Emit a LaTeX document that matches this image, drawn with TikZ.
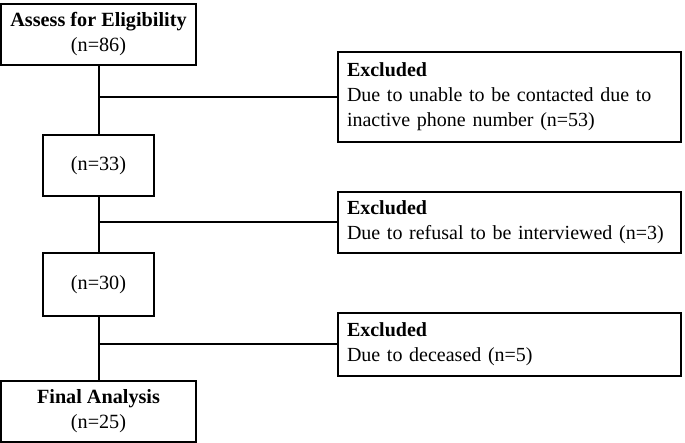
\documentclass[tikz,border=0pt]{standalone}
\usepackage{fontspec}
\setmainfont{Liberation Serif}
\begin{document}
\begin{tikzpicture}[x=1pt,y=-1pt,line width=2pt,
  box/.style={draw,line width=2pt,inner sep=0pt,align=center,font=\fontsize{20.2}{25}\selectfont},
  exbox/.style={draw,line width=2pt,inner xsep=9pt,inner ysep=0pt,align=left,text width=325pt,anchor=west,font=\fontsize{20}{25}\selectfont},
  conn/.style={draw,line width=2pt}]
\useasboundingbox (0,0) rectangle (685,443);
\node[box,minimum width=195pt,minimum height=61pt] (a) at (98.5,34.5) {\textbf{Assess for Eligibility}\\(n=86)};
\node[box,minimum width=111pt,minimum height=61pt] (b) at (98.5,165.5) {(n=33)};
\node[box,minimum width=111pt,minimum height=63pt] (c) at (98.5,284.5) {(n=30)};
\node[box,minimum width=195pt,minimum height=61pt] (d) at (98.5,411.5) {\textbf{Final Analysis}\\(n=25)};
\node[exbox,minimum height=90pt] (e1) at (337,97) {\textbf{Excluded}\\Due to unable to be contacted due to\\inactive phone number (n=53)};
\node[exbox,minimum height=61pt] (e2) at (337,222.5) {\textbf{Excluded}\\Due to refusal to be interviewed (n=3)};
\node[exbox,minimum height=63pt] (e3) at (337,344.5) {\textbf{Excluded}\\Due to deceased (n=5)};
\draw[conn] (a.south) -- (b.north);
\draw[conn] (b.south) -- (c.north);
\draw[conn] (c.south) -- (d.north);
\draw[conn] (e1.west) -- (e1.west -| a.south);
\draw[conn] (e2.west) -- (e2.west -| a.south);
\draw[conn] (e3.west) -- (e3.west -| a.south);
\end{tikzpicture}
\end{document}
